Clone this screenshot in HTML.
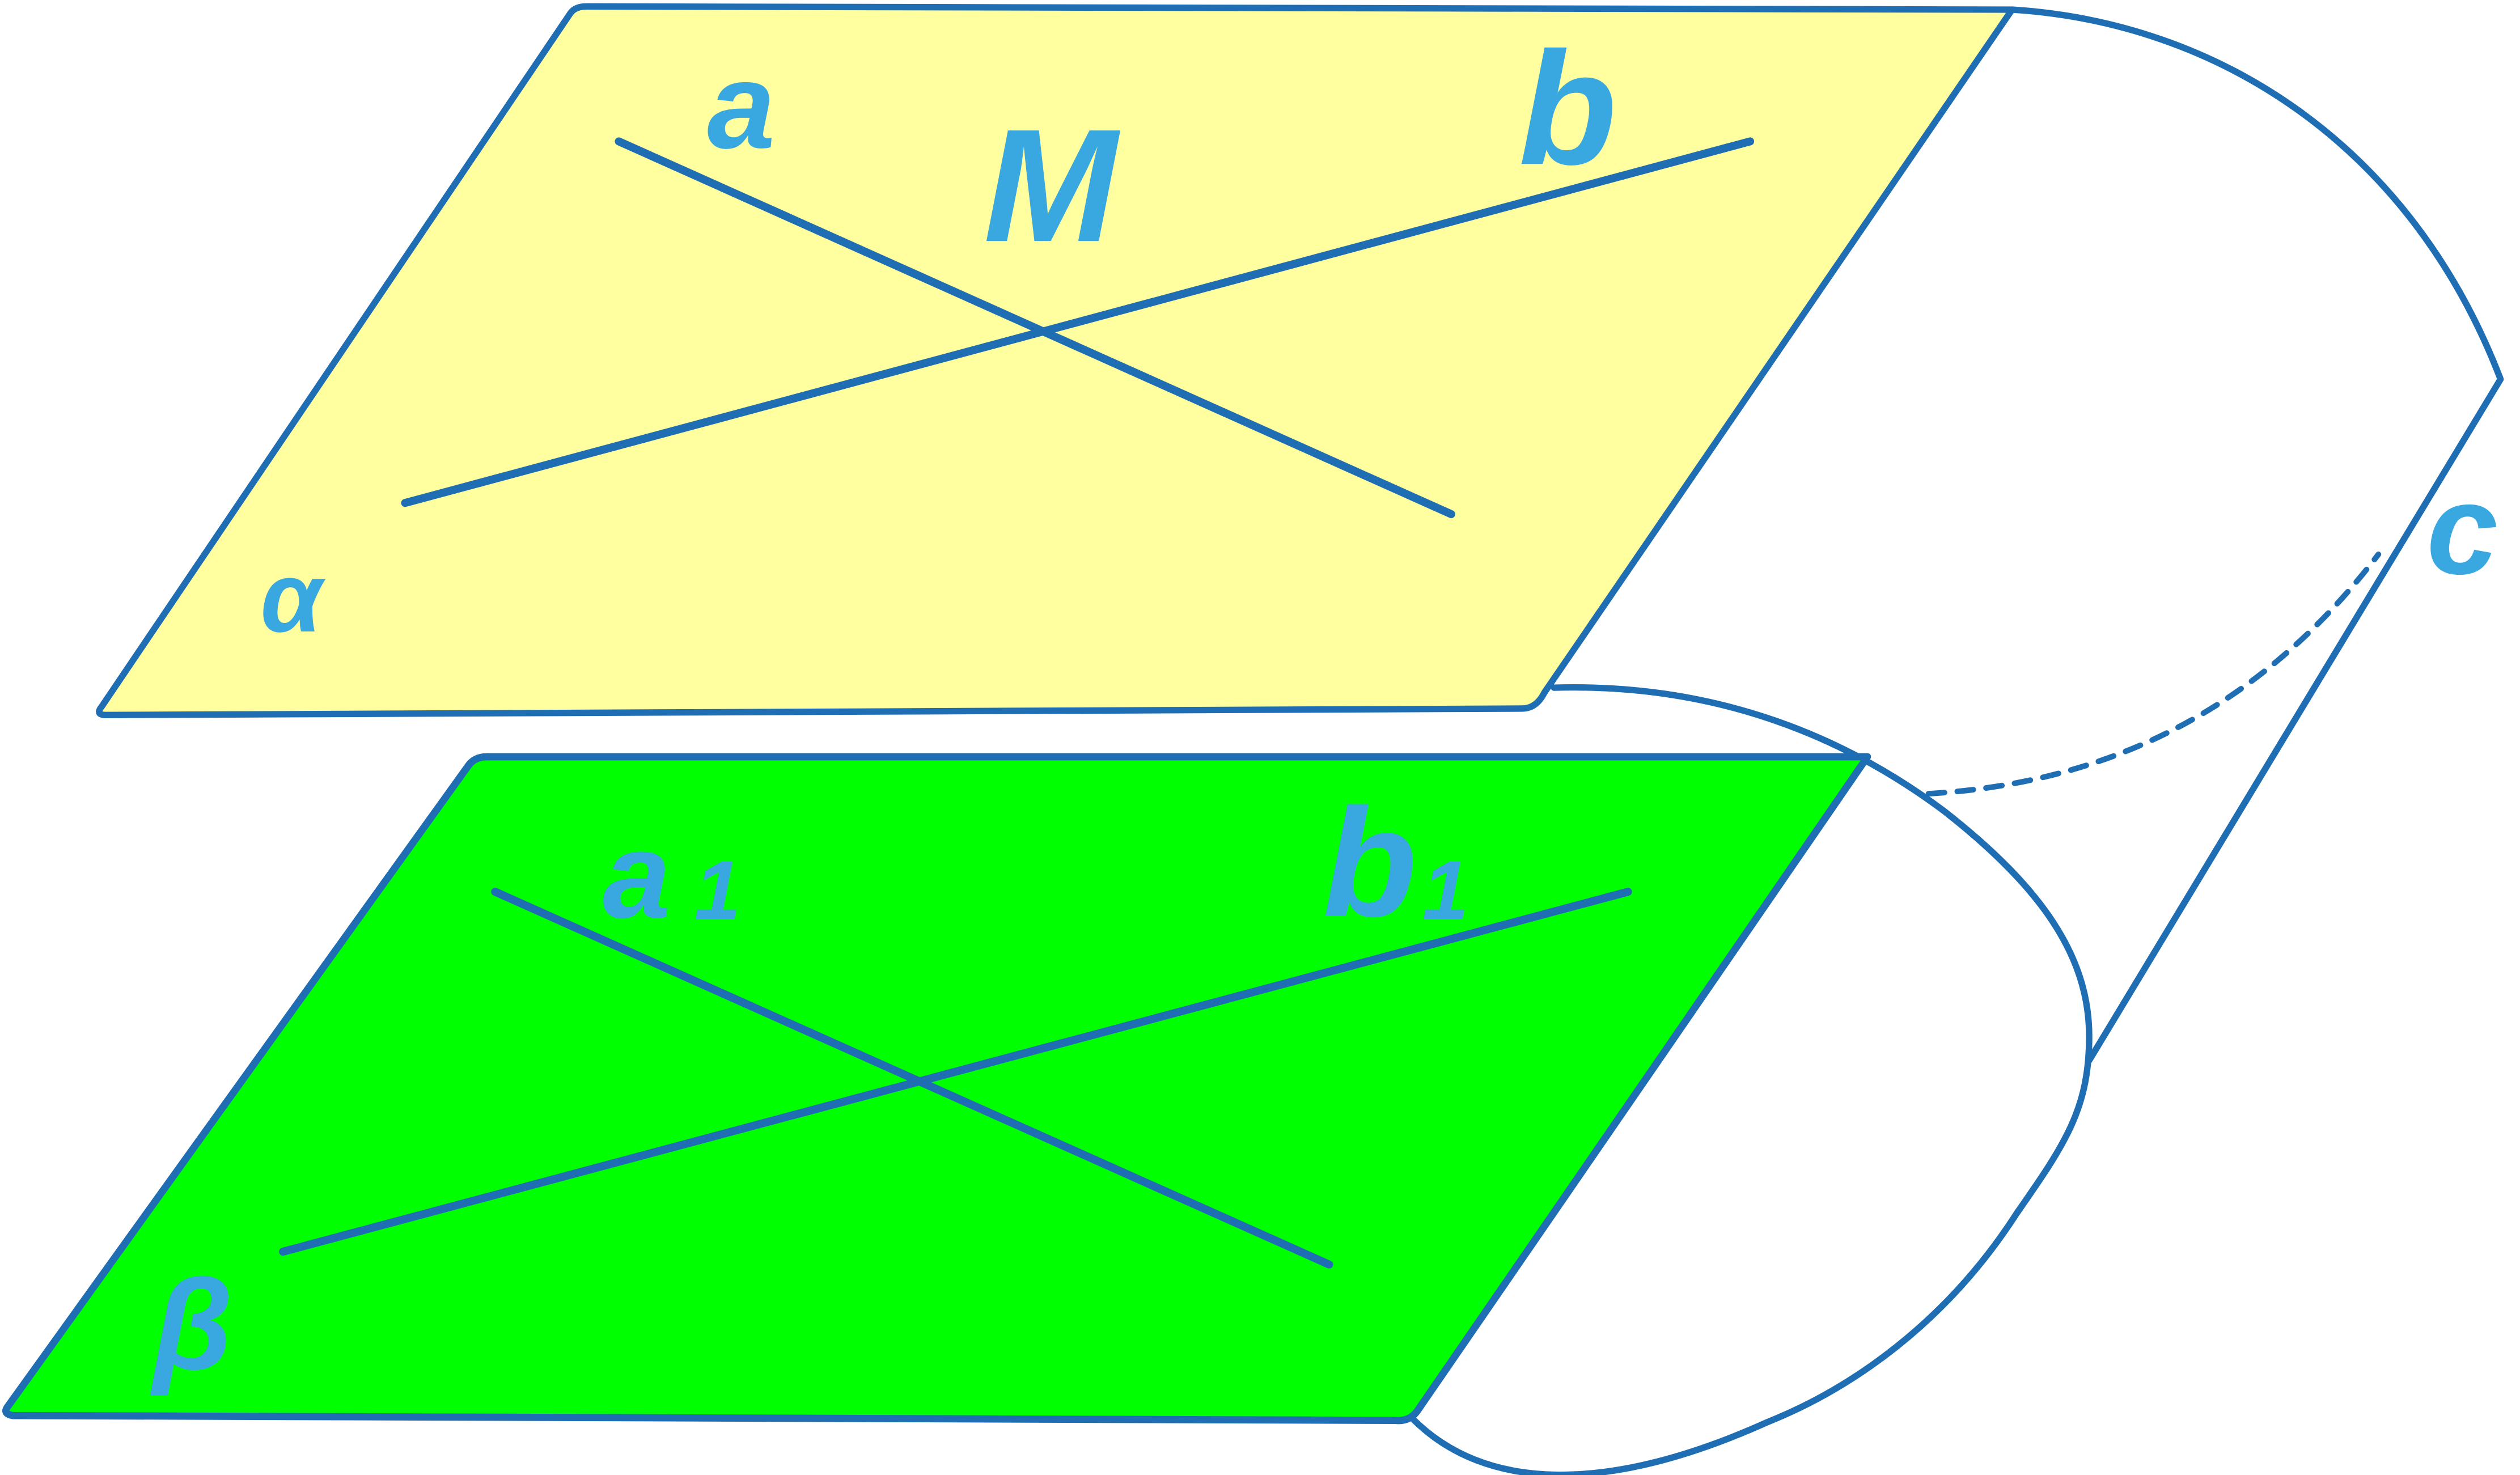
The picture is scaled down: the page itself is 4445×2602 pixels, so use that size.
<!DOCTYPE html>
<html><head><style>html,body{margin:0;padding:0;background:#fff;}svg{display:block}</style></head>
<body>
<svg width="4445" height="2602" viewBox="0 0 1568 918" xmlns="http://www.w3.org/2000/svg">
<g fill="none" stroke="#1f6eb4" stroke-width="4" stroke-linecap="round" stroke-linejoin="round">
<path d="M1252,6 C1380,14 1500,90 1556,236 L1300,660"/>
<path d="M967,428 C1070,425 1150,460 1210,505 C1270,552 1300,595 1300,645 C1300,690 1285,712 1255,755 C1210,825 1150,865 1100,885 C1000,930 925,928 880,884"/>
<path d="M1200,494 C1300,488 1400,450 1480,345" stroke-dasharray="10,8" stroke-width="3.5"/>
</g>
<path d="M355,8 Q358,4 365,4 L1252,6 L961,431 Q956,441 947,441 L66,445 Q59,445 63,440 Z" fill="#ffff9f" stroke="#1f6eb4" stroke-width="4" stroke-linejoin="round"/>
<path d="M291,477 Q295,471 303,471 L1162,471 L882,878 Q877,885 868,884 L8,881 Q1,880 5,875 Z" fill="#00ff00" stroke="#1f6eb4" stroke-width="4.5" stroke-linejoin="round"/>
<g stroke="#1f6eb4" stroke-width="5" stroke-linecap="round">
<line x1="385" y1="88" x2="903" y2="320"/>
<line x1="252" y1="313" x2="1089" y2="88"/>
<line x1="308" y1="555" x2="827" y2="787"/>
<line x1="176" y1="779" x2="1013" y2="555"/>
</g>
<g fill="#3aa8e0" font-family="Liberation Sans, sans-serif" font-style="italic" font-weight="bold">
<text x="440" y="92" font-size="76">a</text>
<text x="612" y="150" font-size="100">M</text>
<text x="945" y="102" font-size="100">b</text>
<text x="162" y="393" font-size="62">α</text>
<text x="375" y="571" font-size="76">a</text>
<text x="432" y="572" font-size="52">1</text>
<text x="823" y="570" font-size="96">b</text>
<text x="885" y="572" font-size="52">1</text>
<text x="95" y="852" font-size="80">β</text>
<text x="1510" y="357" font-size="80">c</text>
</g>
</svg>
</body></html>
